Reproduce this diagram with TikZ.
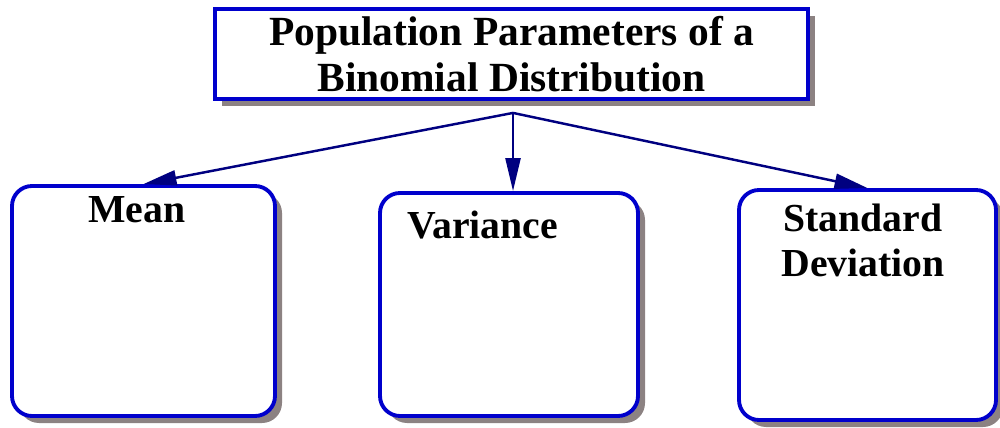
\documentclass[tikz,border=0pt]{standalone}
\usepackage{fontspec}
\setmainfont{Liberation Serif}
\usepackage{tikz}
\usetikzlibrary{arrows.meta,positioning,calc,shadows}
\definecolor{boxblue}{RGB}{0,0,204}
\definecolor{linknavy}{RGB}{0,0,128}
\definecolor{shade}{RGB}{140,130,130}

\begin{document}
\begin{tikzpicture}[
  font=\fontsize{11.3}{13.3}\selectfont\bfseries,
  hd/.style={draw=boxblue, line width=1.1pt, fill=white, align=center,
    minimum width=5.93cm, minimum height=0.9cm, inner sep=0pt,
    font=\fontsize{11.8}{12.9}\selectfont\bfseries,
    drop shadow={shadow xshift=0.07cm, shadow yshift=-0.07cm, fill=shade, opacity=1}},
  bx/.style={draw=boxblue, line width=1.1pt, fill=white, rounded corners=0.2cm,
    inner sep=0pt,
    drop shadow={shadow xshift=0.07cm, shadow yshift=-0.07cm, fill=shade, opacity=1}},
  lbl/.style={anchor=base, inner sep=0pt, align=center},
  link/.style={-{Triangle[length=3.3mm, width=1.5mm]}, draw=linknavy, fill=linknavy, line width=0.7pt}]
\useasboundingbox (0,0) rectangle (10,-4.28);
\node[hd] (title) at (5.115,-0.54) {Population Parameters of a\\Binomial Distribution};
\node[bx, minimum width=2.63cm, minimum height=2.30cm] (mean) at (1.435,-3.01) {};
\node[bx, minimum width=2.58cm, minimum height=2.23cm] (var) at (5.09,-3.045) {};
\node[bx, minimum width=2.57cm, minimum height=2.30cm] (sd) at (8.675,-3.05) {};
\node[lbl] (meant) at (1.37,-2.23) {Mean};
\node[lbl] (vart) at (4.825,-2.39) {Variance};
\node[lbl, font=\fontsize{11.3}{12.9}\selectfont\bfseries] (sdt) at (8.63,-2.77) {Standard\\Deviation};
\coordinate (hub) at ($(title.south)+(0.015,-0.12)$);
\draw[link] (hub) -- (mean.north);
\draw[link] (hub) -- (var.north -| hub);
\draw[link] (hub) -- (sd.north);
\end{tikzpicture}
\end{document}
